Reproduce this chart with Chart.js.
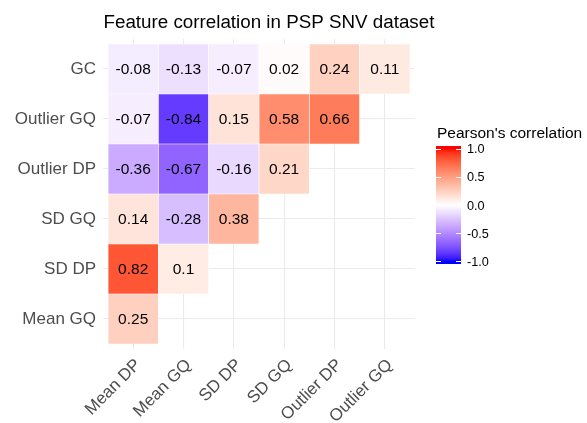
<!DOCTYPE html>
<html>
<head>
<meta charset="utf-8">
<script src="https://cdn.jsdelivr.net/npm/chart.js@4/dist/chart.umd.min.js"></script>
<style>
  html, body { margin: 0; padding: 0; background: #ffffff; }
  #wrap { width: 587px; height: 423px; position: relative; }
</style>
</head>
<body>
<div id="wrap"><canvas id="c" width="587" height="423"></canvas></div>
<script>
// ---- data ----
const titleText = "Feature correlation in PSP SNV dataset";
const legendTitle = "Pearson's correlation";
const colLabels = ["Mean DP", "Mean GQ", "SD DP", "SD GQ", "Outlier DP", "Outlier GQ"];
const rowLabels = ["Mean GQ", "SD DP", "SD GQ", "Outlier DP", "Outlier GQ", "GC"]; // bottom to top
const meanGQValues = [0.25];
const sdDPValues = [0.82, 0.1];
const sdGQValues = [0.14, -0.28, 0.38];
const outlierDPValues = [-0.36, -0.67, -0.16, 0.21];
const outlierGQValues = [-0.07, -0.84, 0.15, 0.58, 0.66];
const gcValues = [-0.08, -0.13, -0.07, 0.02, 0.24, 0.11];
const rowValues = [meanGQValues, sdDPValues, sdGQValues, outlierDPValues, outlierGQValues, gcValues];
const legendTicks = [1.0, 0.5, 0.0, -0.5, -1.0];
const legendTickLabels = ["1.0", "0.5", "0.0", "-0.5", "-1.0"];

// ---- colour (Lab interpolation like ggplot's gradient2) ----
function toLin(c) { c /= 255; return c <= 0.04045 ? c / 12.92 : Math.pow((c + 0.055) / 1.055, 2.4); }
function fromLin(c) { const v = c <= 0.0031308 ? 12.92 * c : 1.055 * Math.pow(c, 1 / 2.4) - 0.055; return Math.max(0, Math.min(255, Math.round(v * 255))); }
function rgb2lab(r, g, b) {
  const R = toLin(r), G = toLin(g), B = toLin(b);
  let X = (0.4124564 * R + 0.3575761 * G + 0.1804375 * B) / 0.95047;
  let Y = (0.2126729 * R + 0.7151522 * G + 0.0721750 * B);
  let Z = (0.0193339 * R + 0.1191920 * G + 0.9503041 * B) / 1.08883;
  const f = t => t > 216 / 24389 ? Math.cbrt(t) : (24389 / 27 * t + 16) / 116;
  const fx = f(X), fy = f(Y), fz = f(Z);
  return [116 * fy - 16, 500 * (fx - fy), 200 * (fy - fz)];
}
function lab2rgb(L, a, b) {
  const fy = (L + 16) / 116, fx = fy + a / 500, fz = fy - b / 200;
  const e = 216 / 24389, k = 24389 / 27;
  const xr = fx * fx * fx > e ? fx * fx * fx : (116 * fx - 16) / k;
  const yr = L > k * e ? Math.pow(fy, 3) : L / k;
  const zr = fz * fz * fz > e ? fz * fz * fz : (116 * fz - 16) / k;
  const X = xr * 0.95047, Y = yr, Z = zr * 1.08883;
  const r = 3.2404542 * X - 1.5371385 * Y - 0.4985314 * Z;
  const g = -0.9692660 * X + 1.8760108 * Y + 0.0415560 * Z;
  const bl = 0.0556434 * X - 0.2040259 * Y + 1.0572252 * Z;
  return [fromLin(r), fromLin(g), fromLin(bl)];
}
const labWhite = rgb2lab(255, 255, 255), labRed = rgb2lab(255, 0, 0), labBlue = rgb2lab(0, 0, 255);
function colorFor(v) {
  v = Math.max(-1, Math.min(1, v));
  const end = v >= 0 ? labRed : labBlue, t = Math.abs(v);
  const c = lab2rgb(labWhite[0] + (end[0] - labWhite[0]) * t, labWhite[1] + (end[1] - labWhite[1]) * t, labWhite[2] + (end[2] - labWhite[2]) * t);
  return `rgb(${c[0]},${c[1]},${c[2]})`;
}

const FONT = "'Liberation Sans', Arial, Helvetica, sans-serif";

const datasets = rowValues.map((vals, r) => ({
  label: rowLabels[r],
  data: vals.map((v, i) => ({ x: i, y: [r - 0.5, r + 0.5], v: v })),
  backgroundColor: vals.map(v => colorFor(v)),
  borderColor: '#ffffff',
  borderWidth: 0.7,
  borderSkipped: false,
  grouped: false,
  barPercentage: 1,
  categoryPercentage: 1
}));

const cellTextPlugin = {
  id: 'cellText',
  afterDatasetsDraw(chart) {
    const ctx = chart.ctx;
    ctx.save();
    ctx.font = `15.5px ${FONT}`;
    ctx.fillStyle = '#000000';
    ctx.textAlign = 'center';
    ctx.textBaseline = 'middle';
    chart.data.datasets.forEach((ds, di) => {
      const meta = chart.getDatasetMeta(di);
      meta.data.forEach((el, i) => {
        const v = ds.data[i].v;
        ctx.fillText(String(v), el.x, (el.y + el.base) / 2 + 1);
      });
    });
    ctx.restore();
  }
};

const titleLegendPlugin = {
  id: 'titleLegend',
  afterDraw(chart) {
    const ctx = chart.ctx;
    const area = chart.chartArea;
    ctx.save();
    // title
    ctx.font = `18.8px ${FONT}`;
    ctx.fillStyle = '#000000';
    ctx.textAlign = 'left';
    ctx.textBaseline = 'alphabetic';
    ctx.fillText(titleText, area.left + 0.5, 27.7);
    // legend title
    ctx.font = `15.5px ${FONT}`;
    ctx.fillText(legendTitle, 437, 137.5);
    // colour bar
    const bx = 436, bw = 25, by = 146, bh = 118;
    const inset = bh / 40;
    const yFor = v => by + inset + (1 - v) / 2 * (bh - 2 * inset);
    const grad = ctx.createLinearGradient(0, by, 0, by + bh);
    for (let k = 0; k <= 100; k++) {
      const y = by + bh * k / 100;
      const v = 1 - 2 * (y - by - inset) / (bh - 2 * inset);
      grad.addColorStop(k / 100, colorFor(v));
    }
    ctx.fillStyle = grad;
    ctx.fillRect(bx, by, bw, bh);
    ctx.strokeStyle = '#ffffff';
    ctx.lineWidth = 1;
    ctx.font = `12.7px ${FONT}`;
    ctx.fillStyle = '#000000';
    ctx.textBaseline = 'middle';
    legendTicks.forEach((t, i) => {
      const y = Math.round(yFor(t)) + 0.5;
      ctx.beginPath();
      ctx.moveTo(bx, y); ctx.lineTo(bx + bw / 5, y);
      ctx.moveTo(bx + bw - bw / 5, y); ctx.lineTo(bx + bw, y);
      ctx.stroke();
      ctx.fillText(legendTickLabels[i], 467, yFor(t) + 1);
    });
    ctx.restore();
  }
};

new Chart(document.getElementById('c'), {
  type: 'bar',
  data: { datasets },
  options: {
    responsive: false,
    animation: false,
    events: [],
    layout: { padding: { top: 39, right: 172, left: 0, bottom: 0 } },
    plugins: { legend: { display: false }, tooltip: { enabled: false }, title: { display: false } },
    scales: {
      x: {
        type: 'linear',
        offset: false,
        min: -0.6, max: 5.6,
        afterBuildTicks: s => { s.ticks = colLabels.map((_, i) => ({ value: i })); },
        afterFit: s => { s.height = 74; s.paddingLeft = 0; s.paddingRight = 0; s.paddingTop = 0; s.paddingBottom = 0; },
        grid: { color: '#EBEBEB', lineWidth: 1.1, drawTicks: false, offset: false },
        border: { display: false },
        ticks: {
          autoSkip: false, minRotation: 45, maxRotation: 45, padding: 6, labelOffset: 5,
          color: '#4D4D4D', font: { size: 17, family: FONT },
          callback: v => colLabels[v]
        }
      },
      y: {
        type: 'linear',
        offset: false,
        min: -0.6, max: 5.6,
        afterBuildTicks: s => { s.ticks = rowLabels.map((_, i) => ({ value: i })); },
        afterFit: s => { s.width = 103; s.paddingLeft = 0; s.paddingRight = 0; s.paddingTop = 0; s.paddingBottom = 0; },
        grid: { color: '#EBEBEB', lineWidth: 1.1, drawTicks: false, offset: false },
        border: { display: false },
        ticks: {
          autoSkip: false, padding: 7,
          color: '#4D4D4D', font: { size: 17, family: FONT },
          callback: v => rowLabels[v]
        }
      }
    }
  },
  plugins: [cellTextPlugin, titleLegendPlugin]
});
</script>
</body>
</html>
